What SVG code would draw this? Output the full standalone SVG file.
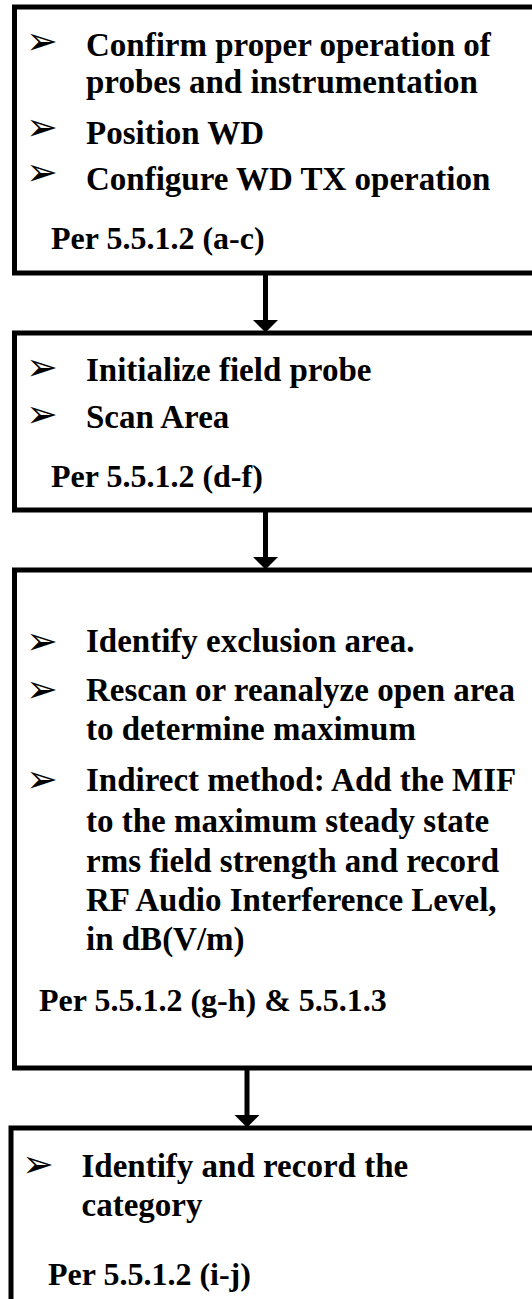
<svg xmlns="http://www.w3.org/2000/svg" width="532" height="1299" viewBox="0 0 532 1299">
<style>
.box{fill:#fff;stroke:#000;stroke-width:5}
.t{font-family:"Liberation Serif","Times New Roman",serif;font-weight:bold;font-size:33px;fill:#000}
.p{font-family:"Liberation Serif","Times New Roman",serif;font-weight:bold;font-size:32px;fill:#000}
.b{font-family:"DejaVu Sans",sans-serif;font-size:38px;fill:#000}
.c{stroke:#000;stroke-width:5;fill:none}
</style>
<defs>
<marker id="ah" markerUnits="userSpaceOnUse" markerWidth="13" markerHeight="26" refX="0" refY="12.5" orient="auto" viewBox="0 0 13 25">
<path d="M0,0 L12.5,12.5 L0,25 z" fill="#000"/>
</marker>
</defs>
<rect width="532" height="1299" fill="#fff"/>
<g id="connectors">
<line class="c" x1="265.5" y1="275" x2="265.5" y2="320" marker-end="url(#ah)"/>
<line class="c" x1="265.5" y1="512" x2="265.5" y2="557" marker-end="url(#ah)"/>
<line class="c" x1="247" y1="1070" x2="247" y2="1115" marker-end="url(#ah)"/>
</g>
<g id="node1">
<rect class="box" x="14.5" y="7" width="600" height="266"/>
<text class="b" x="26" y="54">➢</text>
<text class="t" x="86" y="56">Confirm proper operation of</text>
<text class="t" x="86" y="93">probes and instrumentation</text>
<text class="b" x="26" y="140">➢</text>
<text class="t" x="86" y="144">Position WD</text>
<text class="b" x="26" y="185">➢</text>
<text class="t" x="86" y="190">Configure WD TX operation</text>
<text class="p" x="51" y="249">Per 5.5.1.2 (a-c)</text>
</g>
<g id="node2">
<rect class="box" x="14.5" y="333" width="600" height="177"/>
<text class="b" x="26" y="380">➢</text>
<text class="t" x="86" y="381">Initialize field probe</text>
<text class="b" x="26" y="427">➢</text>
<text class="t" x="86" y="428">Scan Area</text>
<text class="p" x="51" y="487">Per 5.5.1.2 (d-f)</text>
</g>
<g id="node3">
<rect class="box" x="14.5" y="570" width="600" height="498"/>
<text class="b" x="26" y="654">➢</text>
<text class="t" x="86" y="652">Identify exclusion area.</text>
<text class="b" x="26" y="702">➢</text>
<text class="t" x="86" y="701">Rescan or reanalyze open area</text>
<text class="t" x="86" y="740">to determine maximum</text>
<text class="b" x="26" y="792">➢</text>
<text class="t" x="86" y="791">Indirect method: Add the MIF</text>
<text class="t" x="86" y="832">to the maximum steady state</text>
<text class="t" x="86" y="872">rms field strength and record</text>
<text class="t" x="86" y="911">RF Audio Interference Level,</text>
<text class="t" x="86" y="950">in dB(V/m)</text>
<text class="p" x="39" y="1011">Per 5.5.1.2 (g-h) &amp; 5.5.1.3</text>
</g>
<g id="node4">
<rect class="box" x="11" y="1128" width="600" height="240"/>
<text class="b" x="22" y="1177">➢</text>
<text class="t" x="81.5" y="1177">Identify and record the</text>
<text class="t" x="81.5" y="1216">category</text>
<text class="p" x="48" y="1285">Per 5.5.1.2 (i-j)</text>
</g>
</svg>
